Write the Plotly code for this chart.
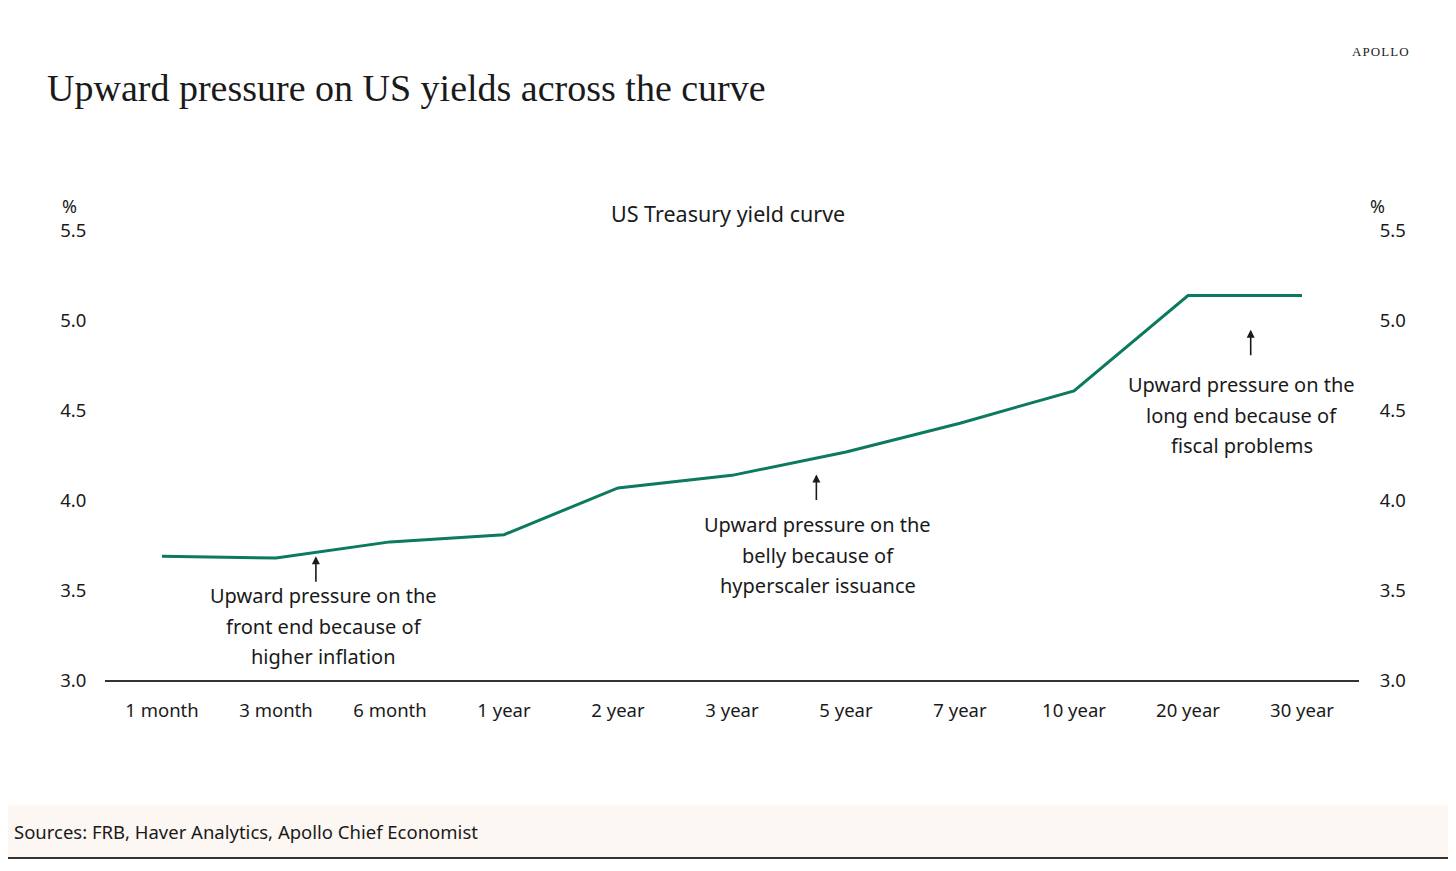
import plotly.graph_objects as go

# Data
maturities = ['1 month', '3 month', '6 month', '1 year', '2 year', '3 year',
              '5 year', '7 year', '10 year', '20 year', '30 year']
yields = [3.69, 3.68, 3.77, 3.81, 4.07, 4.14, 4.27, 4.43, 4.61, 5.14, 5.14]
y_ticks = [3.0, 3.5, 4.0, 4.5, 5.0, 5.5]

# page has an 8px body margin, so the figure is drawn 8px smaller
OFF = 8
W, H = 1456 - OFF, 871 - OFF
FONT = 'Noto Sans'
INK = '#1a1a1a'
GREEN = '#0b7a5e'


def px(x):
    # page pixel -> paper x
    return (x - OFF) / W


def py(y):
    # page pixel -> paper y
    return 1 - (y - OFF) / H


fig = go.Figure()

fig.add_trace(go.Scatter(
    x=list(range(len(maturities))), y=yields,
    mode='lines', line=dict(color=GREEN, width=3),
    showlegend=False, hoverinfo='skip'
))
# invisible trace so the right axis gets drawn
fig.add_trace(go.Scatter(
    x=[0], y=[3.0], yaxis='y2', mode='markers',
    marker=dict(opacity=0), showlegend=False, hoverinfo='skip'
))

axis_font = dict(family=FONT, size=18.5, color=INK)

fig.update_layout(
    width=W, height=H,
    margin=dict(l=0, r=0, t=0, b=0),
    paper_bgcolor='white', plot_bgcolor='white',
    xaxis=dict(
        domain=[px(105), px(1359)],
        range=[-0.5, len(maturities) - 0.5],
        tickmode='array', tickvals=list(range(len(maturities))),
        ticktext=maturities, tickfont=axis_font,
        showgrid=False, zeroline=False,
        showline=True, linecolor='#333333', linewidth=2,
        ticks='outside', ticklen=12, tickcolor='rgba(0,0,0,0)',
    ),
    yaxis=dict(
        domain=[py(686), py(223)], range=[3.0, 5.5],
        tickvals=y_ticks, tickformat='.1f', tickfont=axis_font,
        showgrid=False, zeroline=False, showline=False,
        ticks='outside', ticklen=14, tickcolor='rgba(0,0,0,0)',
    ),
    yaxis2=dict(
        overlaying='y', side='right', range=[3.0, 5.5],
        tickvals=y_ticks, tickformat='.1f', tickfont=axis_font,
        showgrid=False, zeroline=False, showline=False,
        ticks='outside', ticklen=16, tickcolor='rgba(0,0,0,0)',
    ),
)

annotations = [
    dict(text='Upward pressure on US yields across the curve',
         x=px(45), y=py(76), xanchor='left', yanchor='middle',
         font=dict(family='Liberation Serif', size=38, color=INK)),
    dict(text='A\u200aP\u200aO\u200aL\u200aL\u200aO',
         x=px(1411), y=py(38), xanchor='right', yanchor='middle',
         font=dict(family='Liberation Serif', size=13, color=INK)),
    dict(text='US Treasury yield curve', x=px(728), y=py(205),
         xanchor='center', yanchor='middle',
         font=dict(family=FONT, size=21.5, color=INK)),
    dict(text='%', x=px(69), y=py(197), xanchor='center', yanchor='middle',
         font=dict(family=FONT, size=18, color=INK)),
    dict(text='%', x=px(1377), y=py(197), xanchor='center', yanchor='middle',
         font=dict(family=FONT, size=18, color=INK)),
    dict(text='Sources: FRB, Haver Analytics, Apollo Chief Economist',
         x=px(12), y=py(842), xanchor='left', yanchor='middle',
         font=dict(family=FONT, size=18.5, color=INK)),
]
for a in annotations:
    a.update(xref='paper', yref='paper', showarrow=False)
    fig.add_annotation(**a)

# callouts: arrow tip (x, y), first text line centre (x, y), lines
callouts = [
    (1.35, 3.69, 1.42, 3.47,
     ['Upward pressure on the', 'front end because of', 'higher inflation']),
    (5.74, 4.145, 5.75, 3.865,
     ['Upward pressure on the', 'belly because of', 'hyperscaler issuance']),
    (9.55, 4.95, 9.47, 4.645,
     ['Upward pressure on the', 'long end because of', 'fiscal problems']),
]
for tx, ty, lx, ly, lines in callouts:
    fig.add_annotation(x=tx, y=ty, xref='x', yref='y', text='',
                       showarrow=True, ax=0, ay=27, arrowhead=2,
                       arrowsize=1, arrowwidth=1.6, arrowcolor=INK)
    for i, line in enumerate(lines):
        fig.add_annotation(x=lx, y=ly, xref='x', yref='y', text=line,
                           showarrow=False, yanchor='middle', yshift=-30.5 * i,
                           font=dict(family=FONT, size=20, color=INK))

# footer band and frame
fig.add_shape(type='rect', xref='paper', yref='paper',
              x0=px(8), x1=px(1454), y0=py(868), y1=py(815),
              fillcolor='#fcf7f2', line=dict(width=0), layer='below')
for x0, y0, x1, y1 in [(1454, 8, 1454, 869), (8, 869, 1455, 869)]:
    fig.add_shape(type='line', xref='paper', yref='paper',
                  x0=px(x0), x1=px(x1), y0=py(y0), y1=py(y1),
                  line=dict(color='#333333', width=2))

fig.write_html('out.html')
